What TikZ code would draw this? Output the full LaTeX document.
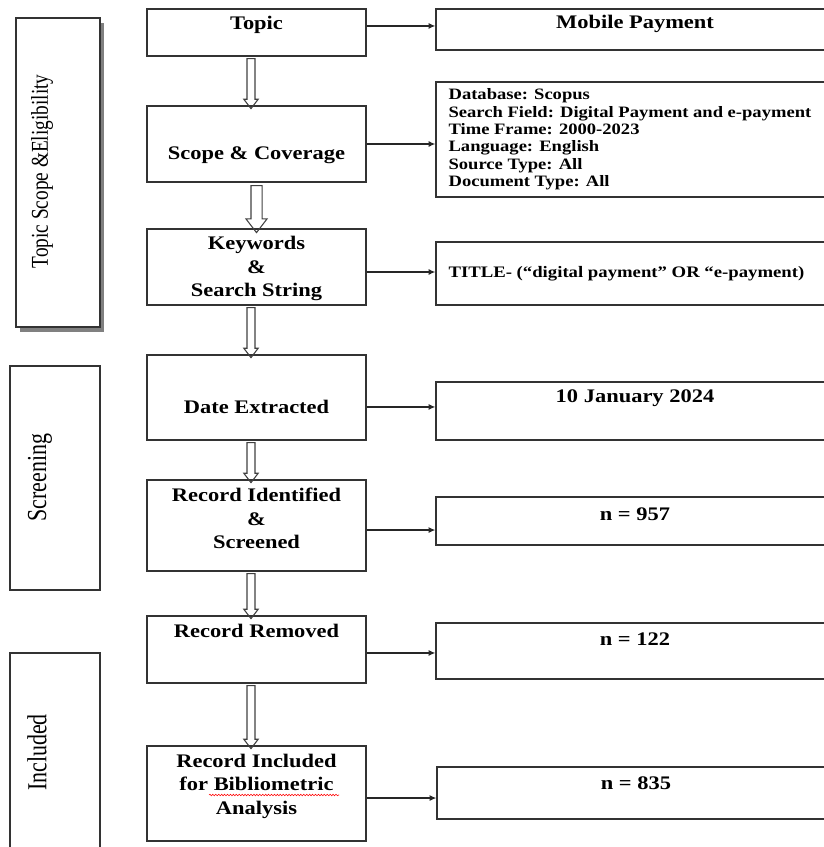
\documentclass[tikz,border=0pt]{standalone}
\usepackage{fontspec}
\setmainfont{Liberation Serif}
\newfontfamily\boxfont[FakeStretch=1.17]{Liberation Serif}
\newfontfamily\sidefont[FakeStretch=0.8]{Liberation Serif}
\usetikzlibrary{arrows.meta, calc, shapes.arrows, shadows, decorations.pathmorphing}

\begin{document}
\begin{tikzpicture}[x=0.75pt, y=-0.75pt,
  box/.style={draw=black!80, line width=1pt, rectangle, inner sep=0pt, fill=white},
  midbox/.style={box, minimum width=164.25pt},
  outbox/.style={box, minimum width=298.5pt},
  sidebox/.style={box, minimum width=67.5pt},
  midtxt/.style={font=\boxfont\bfseries\fontsize{14.4}{17.6}\selectfont, align=center, inner sep=0pt},
  listtxt/.style={font=\boxfont\bfseries\fontsize{11.9}{13}\selectfont, align=left, inner sep=0pt, anchor=west},
  sidetxt/.style={font=\sidefont\fontsize{20.6}{22}\selectfont, rotate=90, inner sep=0pt},
  flow/.style={draw=black!85, line width=0.9pt, -{Latex[length=5pt, width=4.5pt]}},
  hollow/.style={single arrow, draw=black!75, line width=0.8pt, rotate=-90, inner sep=2.6pt,
    single arrow head extend=2.4pt, single arrow tip angle=75}
]

\clip (0,0) rectangle (824,847);

% stages
\node[box, minimum width=63pt, minimum height=231.75pt,
  drop shadow={shadow xshift=3pt, shadow yshift=-3.75pt, fill=black!50, opacity=1}] (stage1) at (58,172.5) {};
\node[sidebox, minimum height=168pt] (stage2) at (55,478) {};
\node[sidebox, minimum height=170.25pt] (stage3) at (55,766.5) {};

\node[sidetxt, font=\sidefont\fontsize{18.1}{20}\selectfont] (stage1-l) at (42,171.5) {Topic Scope \&Eligibility};
\node[sidetxt] (stage2-l) at (40,477.5) {Screening};
\node[sidetxt] (stage3-l) at (37,752.5) {Included};

% process steps
\node[midbox, minimum height=35.25pt] (topic) at (256.5,32.5) {};
\node[midbox, minimum height=57pt] (scope) at (256.5,144) {};
\node[midbox, minimum height=57pt] (keys) at (256.5,267) {};
\node[midbox, minimum height=63.75pt] (extract) at (256.5,397.5) {};
\node[midbox, minimum height=68.25pt] (ident) at (256.5,525.5) {};
\node[midbox, minimum height=50.25pt] (removed) at (256.5,649.5) {};
\node[midbox, minimum height=71.25pt] (incl) at (256.5,793.5) {};

\node[midtxt] (topic-l) at ([yshift=5.6pt]topic) {Topic};
\node[midtxt] (scope-l) at ([yshift=-8.25pt]scope) {Scope \& Coverage};
\node[midtxt] (keys-l) at ([yshift=-1.1pt]keys) {Keywords\\\&\\Search String};
\node[midtxt] (extract-l) at ([yshift=-7.1pt]extract) {Date Extracted};
\node[midtxt] (ident-l) at ([yshift=5.25pt]ident) {Record Identified\\\&\\Screened};
\node[midtxt] (removed-l) at ([yshift=13.9pt]removed) {Record Removed};
\node[midtxt] (incl-l) at ([yshift=5.6pt]incl) {Record Included\\for Bibliometric\\Analysis};
\draw[red, line width=0.4pt, decorate, decoration={snake, amplitude=0.6pt, segment length=2.2pt}]
  (209,795) -- (339,795);

% details
\node[outbox, minimum height=30.75pt] (mobile) at (635,29.5) {};
\node[outbox, minimum height=86.25pt] (db) at (635,139.5) {};
\node[outbox, minimum height=47.25pt] (title) at (635,273.5) {};
\node[outbox, minimum height=43.5pt] (jan) at (635,411) {};
\node[outbox, minimum height=36pt] (n957) at (635,521) {};
\node[outbox, minimum height=42pt] (n122) at (635,651) {};
\node[outbox, minimum height=39pt] (n835) at (636,793) {};

\node[midtxt] (mobile-l) at ([yshift=4.1pt]mobile) {Mobile Payment};
\node[listtxt] (db-l) at ([xshift=9.75pt]db.west) {Database: Scopus\\Search Field: Digital Payment and e-payment\\Time Frame: 2000-2023\\Language: English\\Source Type: All\\Document Type: All};
\node[listtxt, font=\boxfont\bfseries\fontsize{12}{14}\selectfont] (title-l) at ([xshift=9.75pt]title.west) {TITLE- (“digital payment” OR “e-payment)};
\node[midtxt] (jan-l) at ([yshift=9.75pt]jan) {10 January 2024};
\node[midtxt] (n957-l) at ([yshift=5.25pt]n957) {n = 957};
\node[midtxt] (n122-l) at ([yshift=9pt]n122) {n = 122};
\node[midtxt] (n835-l) at ([yshift=7.5pt]n835) {n = 835};

% flow down
\node[hollow, minimum height=37.5pt] (down1) at ($(topic.south)!.5!(scope.north)+(-5.5,0)$) {};
\node[hollow, minimum height=35.25pt, inner sep=3.75pt, single arrow head extend=3.75pt] (down2) at ($(scope.south)!.5!(keys.north)$) {};
\node[hollow, minimum height=37.5pt] (down3) at ($(keys.south)!.5!(extract.north)+(-5.5,0)$) {};
\node[hollow, minimum height=30pt] (down4) at ($(extract.south)!.5!(ident.north)+(-5.5,0)$) {};
\node[hollow, minimum height=33.75pt] (down5) at ($(ident.south)!.5!(removed.north)+(-5.5,0)$) {};
\node[hollow, minimum height=47.25pt] (down6) at ($(removed.south)!.5!(incl.north)+(-5.5,0)$) {};

% flow right
\draw[flow] ([yshift=4.9pt]topic.east) -- ([yshift=4.9pt]topic.east -| mobile.west);
\draw[flow] (scope.east) -- (scope.east -| db.west);
\draw[flow] ([yshift=-3.75pt]keys.east) -- ([yshift=-3.75pt]keys.east -| title.west);
\draw[flow] ([yshift=-7.1pt]extract.east) -- ([yshift=-7.1pt]extract.east -| jan.west);
\draw[flow] ([yshift=-3.4pt]ident.east) -- ([yshift=-3.4pt]ident.east -| n957.west);
\draw[flow] ([yshift=-2.6pt]removed.east) -- ([yshift=-2.6pt]removed.east -| n122.west);
\draw[flow] ([yshift=-3.4pt]incl.east) -- ([yshift=-3.4pt]incl.east -| n835.west);

\end{tikzpicture}
\end{document}
